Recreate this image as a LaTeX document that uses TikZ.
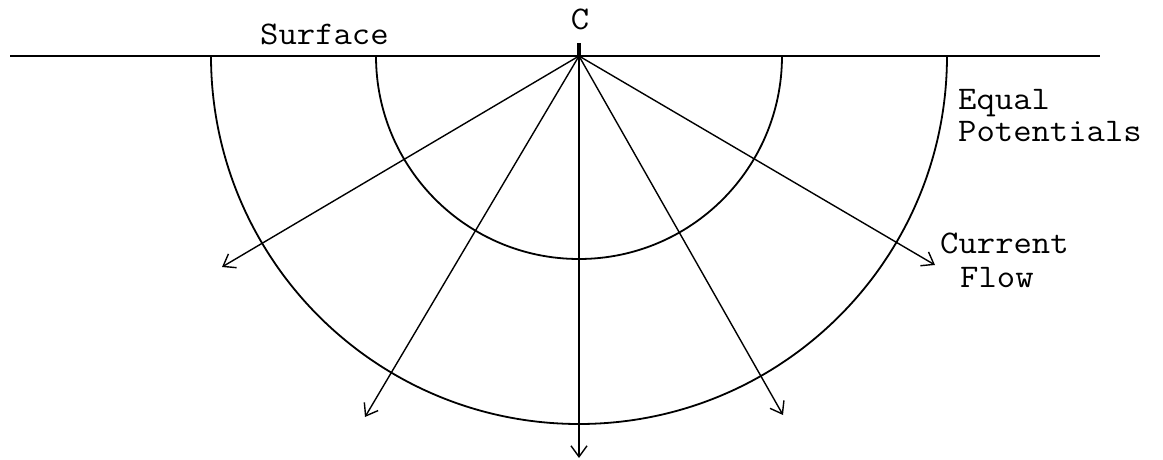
\documentclass[tikz,border=0pt]{standalone}
\usetikzlibrary{arrows.meta}
\begin{document}
\begin{tikzpicture}[x=1pt,y=1pt,
  lbl/.style={font=\ttfamily\fontsize{33}{38}\selectfont, inner sep=0pt, anchor=base west, xscale=1.08, transform shape},
  arcline/.style={line width=1.8pt},
  flow/.style={line width=1.4pt, -{Straight Barb[length=11pt,width=16pt,line width=1.4pt]}}]
\useasboundingbox (0,0) rectangle (1163,-460);
% surface line
\coordinate (L) at (10,-56);
\coordinate (R) at (1100,-56);
\draw[line width=1.5pt] (L) -- (R);
% current source
\coordinate (C) at (579,-56);
\coordinate (Ctop) at (579,-43);
\draw[line width=3.5pt] (C) -- (Ctop);
\node[lbl, anchor=base] (clabel) at (580,-30) {C};
% equal potentials
\draw[arcline] (C) ++(-203,0) arc[start angle=180, end angle=360, radius=203];
\draw[arcline] (C) ++(-368,0) arc[start angle=180, end angle=360, radius=368];
% current flow arrows
\coordinate (t1) at (222,-267);
\coordinate (t2) at (365,-417);
\coordinate (t3) at (579,-458);
\coordinate (t4) at (783,-415);
\coordinate (t5) at (935,-265);
\foreach \t in {t1,t2,t3,t4,t5} \draw[flow] (C) -- (\t);
% labels
\node[lbl] (surface) at (260,-45) {Surface};
\node[lbl] (eq1) at (958,-110) {Equal};
\node[lbl] (eq2) at (958,-142) {Potentials};
\node[lbl] (cf1) at (940,-253) {Current};
\node[lbl] (cf2) at (960,-287) {Flow};
\end{tikzpicture}
\end{document}
